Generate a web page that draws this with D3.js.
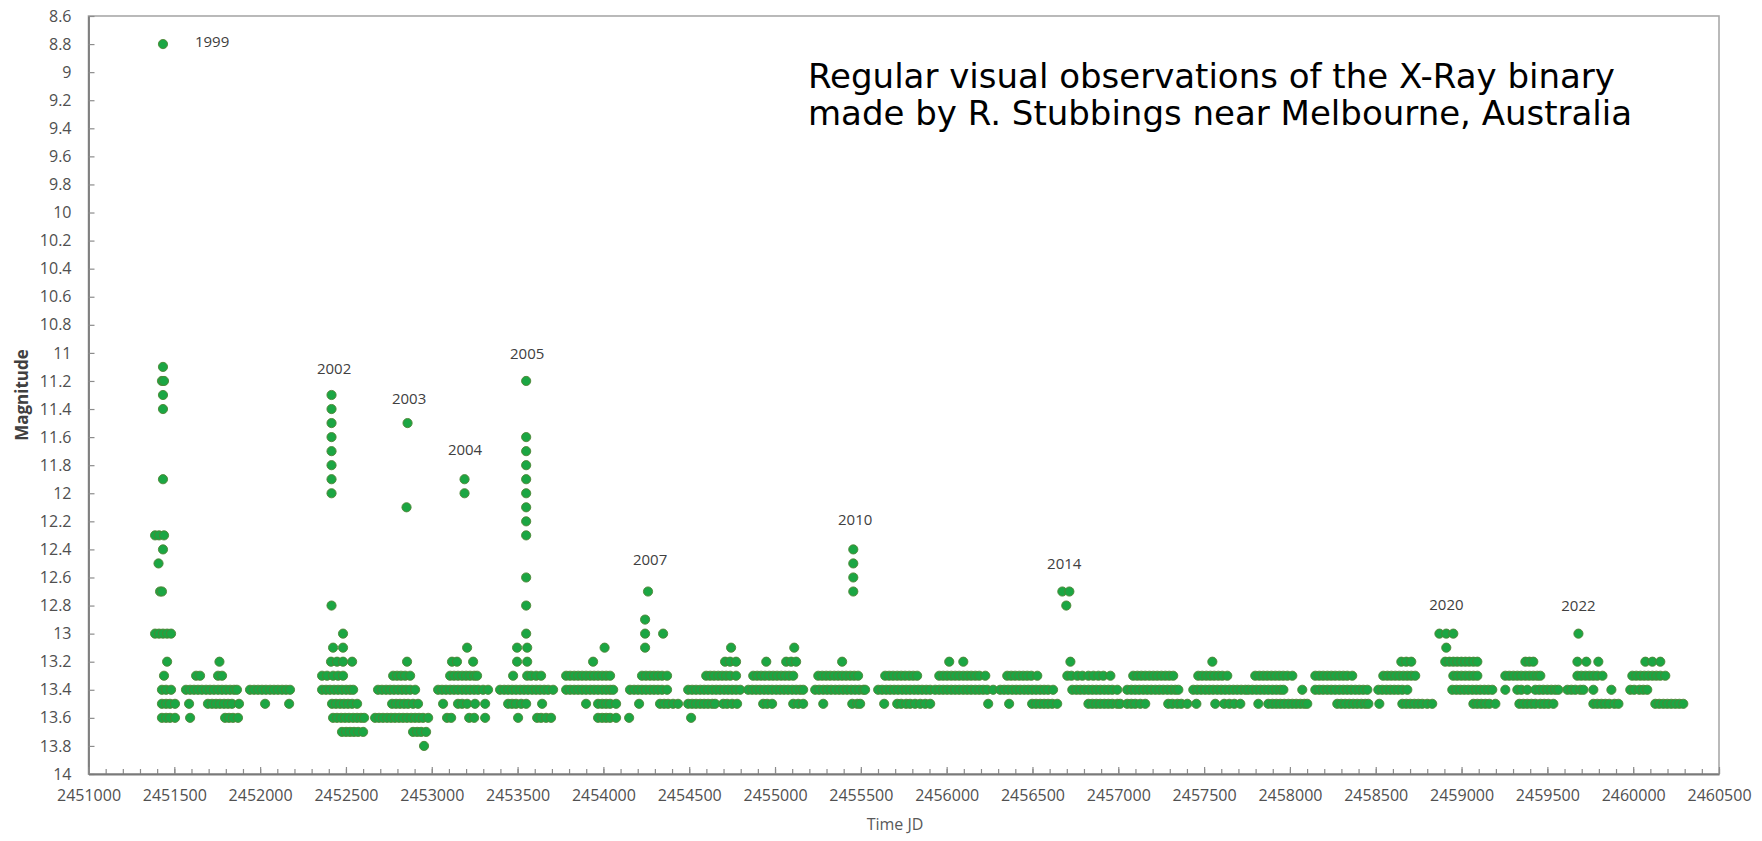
<!DOCTYPE html>
<html><head><meta charset="utf-8">
<script src="https://cdn.jsdelivr.net/npm/d3@7"></script>
<style>body{margin:0;background:#fff} svg{display:block}</style>
</head><body><svg id="c" width="1762" height="841"></svg>
<script>
// ---- Data: [magnitude, [Julian dates]] rows ----
const obs1999_2001 = [
 [8.8,[2451434]],
 [11.1,[2451434]],[11.2,[2451428,2451440]],[11.3,[2451434]],[11.4,[2451434]],
 [11.9,[2451434]],
 [12.3,[2451388,2451411,2451440]],[12.4,[2451434]],[12.5,[2451408]],[12.7,[2451417,2451428]],
 [13.0,[2451388,2451411,2451434,2451458,2451481]],
 [13.2,[2451458]],[13.3,[2451440]],
 [13.4,[2451428,2451452,2451481]],
 [13.5,[2451428,2451452,2451475,2451504]],
 [13.6,[2451428,2451452,2451475,2451504]],
 [13.2,[2451763]],
 [13.3,[2451627,2451650,2451755,2451778]],
 [13.4,[2451568,2451592,2451615,2451638,2451661,2451685,2451708,2451731,2451755,2451778,2451801,2451825,2451848,2451865]],
 [13.5,[2451586,2451696,2451720,2451743,2451766,2451790,2451813,2451836,2451877]],
 [13.6,[2451592,2451796,2451819,2451842,2451871]],
 [13.4,[2451941,2451965,2451988,2452011,2452034,2452058,2452081,2452104,2452128,2452151,2452174]],
 [13.5,[2452029,2452169]]
];
const obs2002_2004 = [
 [11.3,[2452416]],[11.4,[2452416]],[11.5,[2452416]],[11.6,[2452416]],[11.7,[2452416]],
 [11.8,[2452416]],[11.9,[2452416]],[12.0,[2452416]],[12.8,[2452416]],
 [13.0,[2452483]],
 [13.1,[2452425,2452483]],
 [13.2,[2452413,2452448,2452483,2452536]],
 [13.3,[2452361,2452390,2452425,2452454,2452483]],
 [13.4,[2452361,2452384,2452407,2452431,2452454,2452477,2452501,2452524,2452542]],
 [13.5,[2452419,2452442,2452466,2452489,2452512,2452536,2452565]],
 [13.6,[2452425,2452448,2452472,2452495,2452518,2452542,2452565,2452588,2452606]],
 [13.7,[2452477,2452501,2452524,2452547,2452571,2452600]],
 [11.5,[2452859]],[12.1,[2452853]],
 [13.2,[2452856]],
 [13.3,[2452775,2452798,2452821,2452845,2452874]],
 [13.4,[2452687,2452710,2452734,2452757,2452780,2452804,2452827,2452850,2452874,2452903]],
 [13.5,[2452769,2452792,2452815,2452839,2452862,2452891,2452920]],
 [13.6,[2452670,2452693,2452716,2452740,2452763,2452786,2452810,2452833,2452856,2452880,2452903,2452926,2452949,2452979]],
 [13.7,[2452891,2452915,2452938,2452967]],
 [13.8,[2452955]],
 [11.9,[2453191]],[12.0,[2453191]],
 [13.1,[2453206]],
 [13.2,[2453118,2453147,2453241]],
 [13.3,[2453107,2453130,2453153,2453177,2453200,2453223,2453247,2453264]],
 [13.4,[2453037,2453060,2453083,2453107,2453130,2453153,2453177,2453200,2453223,2453247,2453270,2453299,2453328]],
 [13.5,[2453066,2453153,2453177,2453206,2453252,2453311]],
 [13.6,[2453089,2453113,2453218,2453247,2453311]]
];
const obs2005_2008 = [
 [11.2,[2453550]],[11.6,[2453550]],[11.7,[2453550]],[11.8,[2453550]],[11.9,[2453550]],
 [12.0,[2453550]],[12.1,[2453550]],[12.2,[2453550]],[12.3,[2453550]],[12.6,[2453550]],
 [12.8,[2453550]],[13.0,[2453550]],
 [13.1,[2453497,2453556]],
 [13.2,[2453497,2453556]],
 [13.3,[2453474,2453556,2453579,2453608,2453637]],
 [13.4,[2453398,2453422,2453445,2453468,2453491,2453515,2453538,2453561,2453585,2453608,2453631,2453655,2453678,2453707]],
 [13.5,[2453445,2453468,2453491,2453521,2453550,2453643]],
 [13.6,[2453503,2453614,2453637,2453666,2453695]],
 [13.1,[2454007]],
 [13.2,[2453940]],
 [13.3,[2453783,2453806,2453830,2453853,2453876,2453899,2453923,2453946,2453969,2453993,2454016,2454039]],
 [13.4,[2453783,2453806,2453830,2453853,2453876,2453899,2453923,2453946,2453969,2453993,2454016,2454039,2454057]],
 [13.5,[2453899,2453969,2453993,2454016,2454039,2454074]],
 [13.6,[2453969,2453993,2454016,2454039,2454074]],
 [12.7,[2454260]],
 [12.9,[2454243]],[13.0,[2454243,2454348]],[13.1,[2454243]],
 [13.3,[2454225,2454248,2454272,2454295,2454318,2454342,2454371]],
 [13.4,[2454155,2454179,2454202,2454225,2454248,2454272,2454295,2454318,2454342,2454371]],
 [13.5,[2454208,2454330,2454354,2454377,2454406,2454435]],
 [13.6,[2454150]],
 [13.1,[2454744]],
 [13.2,[2454709,2454738,2454773]],
 [13.3,[2454599,2454622,2454645,2454669,2454692,2454715,2454739,2454773]],
 [13.4,[2454494,2454517,2454540,2454564,2454587,2454610,2454634,2454657,2454680,2454704,2454727,2454750,2454773,2454797]],
 [13.5,[2454494,2454517,2454540,2454564,2454587,2454610,2454634,2454651,2454698,2454721,2454750,2454779]],
 [13.6,[2454511]]
];
const obs2009_2014 = [
 [13.1,[2455112]],
 [13.2,[2454949,2455065,2455094,2455123]],
 [13.3,[2454873,2454896,2454919,2454942,2454966,2454989,2455012,2455036,2455059,2455082,2455106]],
 [13.4,[2454844,2454867,2454890,2454913,2454937,2454960,2454983,2455007,2455030,2455053,2455076,2455100,2455123,2455146,2455164]],
 [13.5,[2454931,2454954,2454983,2455106,2455135,2455164]],
 [12.4,[2455456]],[12.5,[2455456]],[12.6,[2455456]],[12.7,[2455456]],
 [13.2,[2455391]],
 [13.3,[2455252,2455275,2455298,2455321,2455345,2455368,2455391,2455414,2455438,2455461,2455484]],
 [13.4,[2455234,2455257,2455281,2455304,2455327,2455351,2455374,2455397,2455420,2455444,2455467,2455490,2455514,2455525]],
 [13.5,[2455281,2455450,2455479,2455496]],
 [13.3,[2455642,2455665,2455688,2455712,2455735,2455758,2455782,2455805,2455828]],
 [13.4,[2455601,2455624,2455648,2455671,2455694,2455717,2455741,2455764,2455787,2455811,2455834,2455857,2455881,2455904]],
 [13.5,[2455636,2455712,2455735,2455764,2455787,2455816,2455846,2455875,2455904]],
 [13.2,[2456015,2456097]],
 [13.3,[2455957,2455980,2456003,2456027,2456050,2456073,2456097,2456120,2456143,2456167,2456190,2456225]],
 [13.4,[2455933,2455957,2455980,2456003,2456027,2456050,2456073,2456097,2456120,2456143,2456167,2456190,2456213,2456236,2456271]],
 [13.5,[2456242]],
 [13.3,[2456353,2456376,2456399,2456423,2456446,2456469,2456493,2456528]],
 [13.4,[2456312,2456335,2456358,2456382,2456405,2456428,2456452,2456475,2456498,2456521,2456545,2456568,2456591,2456620]],
 [13.5,[2456364,2456498,2456521,2456545,2456568,2456591,2456615,2456644]],
 [12.7,[2456674,2456715]],
 [12.8,[2456697]],
 [13.2,[2456721]],
 [13.3,[2456703,2456727,2456762,2456791,2456826,2456855,2456884,2456913,2456954]],
 [13.4,[2456732,2456756,2456779,2456802,2456826,2456849,2456872,2456895,2456919,2456942,2456965,2456994]],
 [13.5,[2456826,2456849,2456872,2456895,2456919,2456942,2456965,2456994,2457011]]
];
const obs2015_2019 = [
 [13.3,[2457087,2457111,2457134,2457157,2457181,2457204,2457227,2457251,2457274,2457297,2457320]],
 [13.4,[2457052,2457076,2457099,2457122,2457146,2457169,2457192,2457216,2457239,2457262,2457286,2457309,2457332,2457350]],
 [13.5,[2457052,2457076,2457099,2457128,2457157,2457291,2457315,2457344,2457367]],
 [13.2,[2457548]],
 [13.3,[2457466,2457489,2457513,2457536,2457559,2457583,2457606,2457635]],
 [13.4,[2457437,2457460,2457483,2457507,2457530,2457553,2457577,2457600,2457623,2457647,2457670,2457693,2457716,2457740]],
 [13.5,[2457402,2457455,2457565,2457617,2457647,2457676,2457711]],
 [13.3,[2457798,2457822,2457845,2457868,2457892,2457915,2457938,2457961,2457985,2458014]],
 [13.4,[2457758,2457781,2457805,2457828,2457851,2457874,2457898,2457921,2457944,2457962,2458072]],
 [13.5,[2457816,2457874,2457898,2457921,2457944,2457967,2457991,2458014,2458037,2458061,2458084,2458101]],
 [13.3,[2458148,2458171,2458194,2458218,2458241,2458264,2458288,2458311,2458334,2458363]],
 [13.4,[2458148,2458171,2458194,2458218,2458241,2458264,2458288,2458311,2458334,2458357,2458381,2458404,2458427,2458451]],
 [13.5,[2458276,2458299,2458322,2458346,2458369,2458392,2458416,2458439,2458457]],
 [13.2,[2458649,2458678,2458707]],
 [13.3,[2458544,2458568,2458591,2458614,2458637,2458661,2458684,2458707,2458730]],
 [13.4,[2458515,2458538,2458562,2458585,2458608,2458631,2458655,2458684]],
 [13.5,[2458521,2458655,2458678,2458701,2458725,2458748,2458771,2458800,2458829]]
];
const obs2020_2023 = [
 [13.0,[2458871,2458911,2458952]],
 [13.1,[2458911]],
 [13.2,[2458905,2458929,2458952,2458975,2458999,2459022,2459045,2459069,2459092]],
 [13.3,[2458952,2458975,2458999,2459022,2459045,2459069,2459092]],
 [13.4,[2458946,2458970,2458993,2459016,2459039,2459063,2459086,2459109,2459133,2459156,2459179]],
 [13.5,[2459069,2459092,2459115,2459139,2459162,2459197]],
 [13.2,[2459372,2459395,2459418]],
 [13.3,[2459255,2459278,2459302,2459325,2459348,2459372,2459395,2459418,2459441,2459459]],
 [13.4,[2459255,2459325,2459348,2459383,2459430,2459453,2459476,2459500,2459523,2459546,2459564]],
 [13.5,[2459337,2459360,2459383,2459407,2459430,2459459,2459482,2459506,2459535]],
 [13.0,[2459681]],
 [13.2,[2459675,2459727,2459797]],
 [13.3,[2459675,2459698,2459722,2459745,2459768,2459791,2459821]],
 [13.4,[2459617,2459640,2459663,2459692,2459710,2459768,2459873]],
 [13.5,[2459768,2459791,2459815,2459838,2459861,2459891,2459914]],
 [13.2,[2460071,2460112,2460158]],
 [13.3,[2459995,2460018,2460042,2460065,2460088,2460112,2460135,2460158,2460187]],
 [13.4,[2459983,2460006,2460036,2460059,2460082]],
 [13.5,[2460129,2460152,2460176,2460199,2460222,2460246,2460269,2460292]]
];
// outburst labels: [text, JD, magnitude]
const annotations = [
 ["1999",2451720,8.785],["2002",2452431,11.114],["2003",2452868,11.328],
 ["2004",2453194,11.691],["2005",2453556,11.007],["2007",2454272,12.475],
 ["2010",2455467,12.19],["2014",2456685,12.503],["2020",2458912,12.795],
 ["2022",2459681,12.802]
];
const yTicks = [8.6,8.8,9,9.2,9.4,9.6,9.8,10,10.2,10.4,10.6,10.8,11,11.2,11.4,11.6,11.8,12,12.2,12.4,12.6,12.8,13,13.2,13.4,13.6,13.8,14];
const xTicks = [2451000,2451500,2452000,2452500,2453000,2453500,2454000,2454500,2455000,2455500,2456000,2456500,2457000,2457500,2458000,2458500,2459000,2459500,2460000,2460500];
const xDomain = [2451000,2460500];
const yDomain = [8.6,14];
const titleLines = ["Regular visual observations of the X-Ray binary","made by R. Stubbings near Melbourne, Australia"];

// ---- Drawing ----
const svg = d3.select("#c");
const P = {left:88.5,right:1719,top:16,bottom:774};
const x = d3.scaleLinear().domain(xDomain).range([P.left,P.right]);
const y = d3.scaleLinear().domain(yDomain).range([P.top,P.bottom]);

const points = [];
[obs1999_2001,obs2002_2004,obs2005_2008,obs2009_2014,obs2015_2019,obs2020_2023].forEach(set=>
  set.forEach(([m,jds])=>jds.forEach(j=>points.push({jd:j,mag:m}))));

// frame
svg.append("rect").attr("x",P.left).attr("y",P.top).attr("width",P.right-P.left).attr("height",P.bottom-P.top)
  .attr("fill","none").attr("stroke","#a9a9a9").attr("stroke-width",1.6);

const font = "'Open Sans', 'Liberation Sans', sans-serif";
// y axis
const gy = svg.append("g").attr("transform",`translate(${P.left},0)`)
  .call(d3.axisLeft(y).tickValues(yTicks).tickSizeInner(-6).tickSizeOuter(0).tickPadding(17).tickFormat(d=>String(d)));
// minor x ticks
svg.append("g").attr("transform",`translate(0,${P.bottom})`)
  .call(d3.axisBottom(x).tickValues(d3.range(xDomain[0],xDomain[1]+1,100)).tickSizeInner(-5).tickSizeOuter(0).tickFormat(""))
  .call(g=>g.select(".domain").remove());
const gx = svg.append("g").attr("transform",`translate(0,${P.bottom})`)
  .call(d3.axisBottom(x).tickValues(xTicks).tickSizeInner(-7).tickSizeOuter(0).tickPadding(16).tickFormat(d=>String(d)));
[gx,gy].forEach(g=>{
  g.select(".domain").attr("stroke","#7a7a7a").attr("stroke-width",1.8);
  g.selectAll("text").attr("font-family",font).attr("font-size",16).attr("fill","#505050");
});
svg.selectAll(".tick line").attr("stroke","#8c8c8c").attr("stroke-width",1.2);

// points
svg.append("g").selectAll("circle").data(points).join("circle")
  .attr("cx",d=>x(d.jd)).attr("cy",d=>y(d.mag)).attr("r",4.6)
  .attr("fill","#1ba643").attr("stroke","#4f8436").attr("stroke-width",0.9);

// annotations
svg.append("g").selectAll("text").data(annotations).join("text")
  .attr("x",d=>x(d[1])).attr("y",d=>y(d[2])).attr("dy","0.35em")
  .attr("text-anchor","middle").attr("font-family",font).attr("font-size",15).attr("fill","#404040")
  .text(d=>d[0]);

// axis titles
svg.append("text").attr("transform","translate(28,395) rotate(-90)").attr("text-anchor","middle")
  .attr("font-family",font).attr("font-weight","bold").attr("font-size",17).attr("fill","#404040").text("Magnitude");
svg.append("text").attr("x",895).attr("y",830).attr("text-anchor","middle")
  .attr("font-family",font).attr("font-size",16).attr("fill","#595959").text("Time JD");

// title
svg.append("g").selectAll("text").data(titleLines).join("text")
  .attr("x",808).attr("y",(d,i)=>88+i*37)
  .attr("font-family","'DejaVu Sans', sans-serif").attr("font-size",34).attr("fill","#000").text(d=>d);
</script></body></html>
